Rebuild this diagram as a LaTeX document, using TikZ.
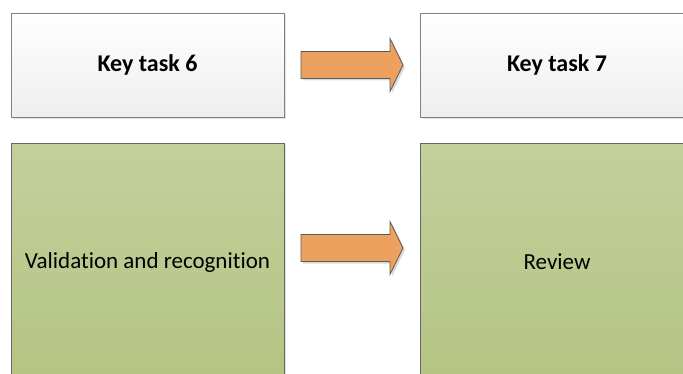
\documentclass[tikz,border=0pt]{standalone}
\usepackage{fontspec}
\setmainfont[Ligatures=NoCommon]{Carlito}
\usetikzlibrary{shadows}
\definecolor{boxtop}{HTML}{FFFFFF}
\definecolor{boxbot}{HTML}{EEEEEE}
\definecolor{boxline}{HTML}{808080}
\definecolor{greentop}{HTML}{C3D09C}
\definecolor{greenbot}{HTML}{B4C483}
\definecolor{greenline}{HTML}{666666}
\definecolor{arrowfill}{HTML}{EDA15F}
\definecolor{arrowline}{HTML}{5A5A5A}
\tikzset{
  x=1pt, y=1pt,
  headbox/.style={draw=boxline, line width=0.9pt, top color=boxtop, bottom color=boxbot,
    drop shadow={shadow xshift=2pt, shadow yshift=-2pt, fill=black, opacity=0.12},
    minimum width=273pt, minimum height=104pt, inner sep=0pt,
    font=\fontsize{24}{28}\selectfont\bfseries},
  greenbox/.style={draw=greenline, line width=0.9pt, top color=greentop, bottom color=greenbot,
    drop shadow={shadow xshift=2pt, shadow yshift=-2pt, fill=black, opacity=0.12},
    minimum width=273pt, minimum height=238pt, inner sep=0pt,
    font=\fontsize{23}{27}\selectfont},
  blockarrow/.style={draw=arrowline, line width=0.8pt, fill=arrowfill, line join=miter,
    drop shadow={shadow xshift=2pt, shadow yshift=-2pt, fill=black, opacity=0.15}},
}
\begin{document}
\begin{tikzpicture}
\useasboundingbox (0,0) rectangle (683,373);
\begin{scope}
\clip (0,0) rectangle (683,373);
\node[headbox] (kt6) at (147.5,308) {Key task 6};
\node[headbox] (kt7) at (557,308) {Key task 7};
\node[greenbox] (val) at (147.5,111) {Validation and recognition};
\node[greenbox] (rev) at (557,111) {Review};
% block arrows
\coordinate (a1) at (301,308);
\coordinate (a2) at (301,125);
\path[blockarrow] (a1) ++(0,13.5) -- ++(89,0) -- ++(0,13) -- ++(13,-26.5) -- ++(-13,-26.5) -- ++(0,13) -- ++(-89,0) -- cycle;
\path[blockarrow] (a2) ++(0,13.5) -- ++(89,0) -- ++(0,13) -- ++(13,-26.5) -- ++(-13,-26.5) -- ++(0,13) -- ++(-89,0) -- cycle;
\end{scope}
\end{tikzpicture}
\end{document}
